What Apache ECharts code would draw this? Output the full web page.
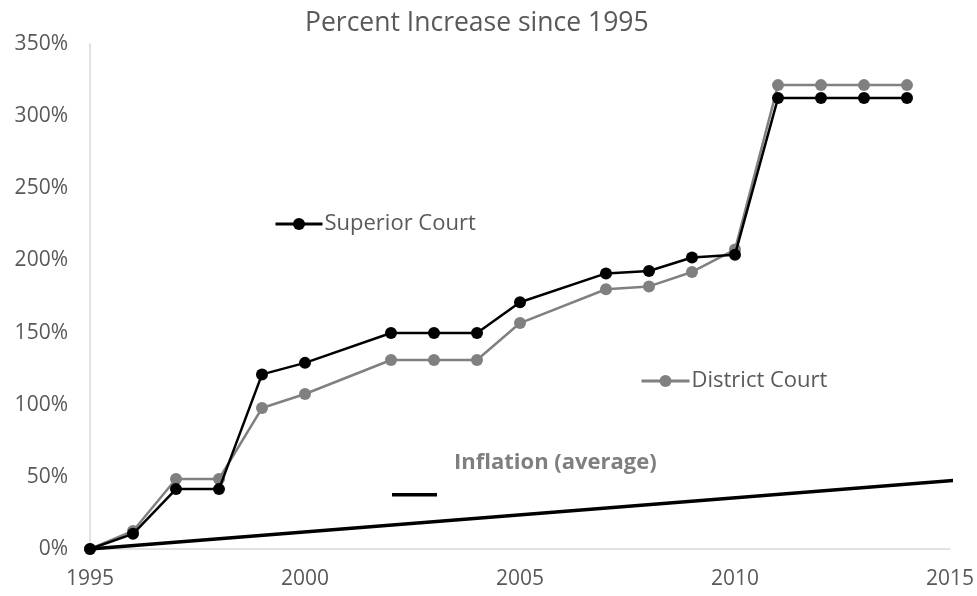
<!DOCTYPE html>
<html>
<head>
<meta charset="utf-8">
<script src="https://cdn.jsdelivr.net/npm/echarts@6/dist/echarts.min.js"></script>
<style>html,body{margin:0;padding:0;background:#fff}#c{width:977px;height:596px}</style>
</head>
<body>
<div id="c"></div>
<script>
var years = [1995,1996,1997,1998,1999,2000,2002,2003,2004,2005,2007,2008,2009,2010,2011,2012,2013,2014];
var superiorCourt = [0,10.5,41.5,41.5,121,129,149.7,149.7,149.7,171,191,192.7,202,204,312.5,312.5,312.5,312.5];
var districtCourt = [0,12.5,48.5,48.5,97.7,107.4,131,131,131,156.6,180,182,192,207.5,321.5,321.5,321.5,321.5];
var inflationYears = [1995, 2015.2];
var inflationValues = [0, 47.8];
var xTicks = [1995, 2000, 2005, 2010, 2015];
var yTicks = [0, 50, 100, 150, 200, 250, 300, 350];

function pairs(xs, ys){ return xs.map(function(x,i){ return [x, ys[i]]; }); }

var chart = echarts.init(document.getElementById('c'), null, {renderer:'canvas'});
var font = 'Open Sans';
chart.setOption({
  animation: false,
  backgroundColor: '#fff',
  title: [
    {text: 'Percent Increase since 1995', left: 300, top: 5,
     textStyle: {fontFamily: font, fontSize: 26.5, fontWeight: 'normal', color: '#595959'}},
    {text: 'Inflation (average)', left: 449, top: 447,
     textStyle: {fontFamily: font, fontSize: 22, fontWeight: 'bold', color: '#7f7f7f'}}
  ],
  legend: [
    {data: ['Superior Court'], left: 274, top: 213, padding: 0, itemWidth: 47, itemHeight: 15,
     lineStyle: {width: 3},
     textStyle: {fontFamily: font, fontSize: 22, color: '#595959', padding: [0,0,0,-3]}},
    {data: ['District Court'], left: 640, top: 370, padding: 0, itemWidth: 48, itemHeight: 15,
     lineStyle: {width: 3},
     textStyle: {fontFamily: font, fontSize: 22, color: '#595959', padding: [0,0,0,-3]}},
    {data: [{name: 'Inflation', icon: 'rect'}], left: 392, top: 493, padding: 0, itemWidth: 45, itemHeight: 3.5,
     formatter: function(){ return ''; }}
  ],
  grid: {left: 90, right: 26, top: 44, bottom: 47},
  xAxis: {
    type: 'value', min: 1995, max: 2015, interval: 5,
    axisLine: {lineStyle: {color: '#d9d9d9', width: 1.5}},
    axisTick: {show: false}, splitLine: {show: false},
    axisLabel: {fontFamily: font, fontSize: 21, color: '#595959', margin: 20,
      formatter: function(v){ return xTicks.indexOf(v) >= 0 ? String(v) : ''; }}
  },
  yAxis: {
    type: 'value', min: 0, max: 350, interval: 50,
    axisLine: {show: true, lineStyle: {color: '#d9d9d9', width: 1.5}},
    axisTick: {show: false}, splitLine: {show: false},
    axisLabel: {fontFamily: font, fontSize: 21, color: '#595959', margin: 22,
      formatter: function(v){ return yTicks.indexOf(v) >= 0 ? v + '%' : ''; }}
  },
  series: [
    {name: 'District Court', type: 'line', data: pairs(years, districtCourt),
     symbol: 'circle', symbolSize: 12, lineStyle: {color: '#808080', width: 2.5},
     itemStyle: {color: '#808080'}, z: 2},
    {name: 'Superior Court', type: 'line', data: pairs(years, superiorCourt),
     symbol: 'circle', symbolSize: 12, lineStyle: {color: '#000', width: 2.5},
     itemStyle: {color: '#000'}, z: 3},
    {name: 'Inflation', type: 'line', data: pairs(inflationYears, inflationValues),
     symbol: 'none', clip: false, lineStyle: {color: '#000', width: 3.5},
     itemStyle: {color: '#000'}, z: 4}
  ]
});
</script>
</body>
</html>
